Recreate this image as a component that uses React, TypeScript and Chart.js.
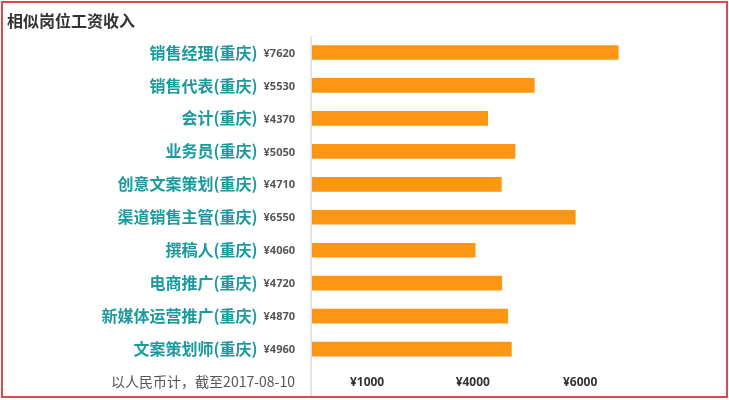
import React, { useEffect, useRef } from "react";
import { Chart, registerables } from "chart.js";

Chart.register(...registerables);

const titleText = "相似岗位工资收入";
const noteText = "以人民币计，截至2017-08-10";
const categories = [
  "销售经理(重庆)",
  "销售代表(重庆)",
  "会计(重庆)",
  "业务员(重庆)",
  "创意文案策划(重庆)",
  "渠道销售主管(重庆)",
  "撰稿人(重庆)",
  "电商推广(重庆)",
  "新媒体运营推广(重庆)",
  "文案策划师(重庆)",
];
const salaries = [7620, 5530, 4370, 5050, 4710, 6550, 4060, 4720, 4870, 4960];
const tickValues = [1370, 4000, 6670];
const tickLabels = ["¥1000", "¥4000", "¥6000"];

const CJK = '"Noto Sans CJK SC", "Noto Sans", sans-serif';

const decorPlugin = {
  id: "decor",
  beforeDraw(chart: any) {
    const { ctx } = chart;
    ctx.save();
    ctx.fillStyle = "#ffffff";
    ctx.fillRect(0, 0, chart.width, chart.height);
    ctx.restore();
  },
  afterDraw(chart: any) {
    const { ctx, chartArea } = chart;
    const yScale = chart.scales.y;
    ctx.save();
    // border
    ctx.strokeStyle = "#e2464b";
    ctx.lineWidth = 2;
    ctx.strokeRect(2, 2, chart.width - 4, chart.height - 5);
    // title
    ctx.fillStyle = "#333333";
    ctx.font = `bold 16px ${CJK}`;
    ctx.textAlign = "left";
    ctx.textBaseline = "middle";
    ctx.fillText(titleText, 7, 21);
    // axis line
    ctx.strokeStyle = "#e4e4e4";
    ctx.lineWidth = 2;
    ctx.beginPath();
    ctx.moveTo(chartArea.left - 1, chartArea.top);
    ctx.lineTo(chartArea.left - 1, chart.height - 4);
    ctx.stroke();
    // category labels
    const valueRight = chartArea.left - 17;
    categories.forEach((cat, i) => {
      const y = yScale.getPixelForValue(i);
      const v = "¥" + salaries[i];
      ctx.font = `bold 11px "Open Sans", sans-serif`;
      ctx.fillStyle = "#555555";
      ctx.textAlign = "right";
      ctx.textBaseline = "middle";
      ctx.fillText(v, valueRight, y + 1);
      const w = ctx.measureText(v).width;
      ctx.font = `bold 16px ${CJK}`;
      ctx.fillStyle = "#1a9a9e";
      ctx.fillText(cat, valueRight - w - 6, y);
    });
    // note
    ctx.font = `14px ${CJK}`;
    ctx.fillStyle = "#555555";
    ctx.textAlign = "right";
    ctx.fillText(noteText, valueRight, 382);
    ctx.restore();
  },
};

export default function App() {
  const ref = useRef<HTMLCanvasElement | null>(null);
  useEffect(() => {
    if (!ref.current) return;
    const chart = new Chart(ref.current, {
      type: "bar",
      data: {
        labels: categories,
        datasets: [
          {
            data: salaries,
            backgroundColor: "#fd9713",
            barThickness: 14,
          },
        ],
      },
      options: {
        indexAxis: "y",
        animation: false,
        responsive: false,
        layout: { padding: { left: 312, top: 36, right: 15, bottom: 0 } },
        plugins: { legend: { display: false }, tooltip: { enabled: false } },
        scales: {
          y: { display: false },
          x: {
            min: 0,
            max: 10000,
            grid: { display: false, drawTicks: false },
            border: { display: false },
            afterBuildTicks: (scale: any) => {
              scale.ticks = tickValues.map((v) => ({ value: v }));
            },
            ticks: {
              padding: 10,
              autoSkip: false,
              maxRotation: 0,
              color: "#333333",
              font: { size: 12, weight: "bold", family: '"Open Sans", sans-serif' },
              callback: (_v: any, i: number) => tickLabels[i],
            },
          },
        },
      },
      plugins: [decorPlugin],
    });
    return () => chart.destroy();
  }, []);
  return (
    <div style={{ position: "fixed", left: 0, top: 0, width: 729, height: 400 }}>
      <canvas ref={ref} width={729} height={400} style={{ width: 729, height: 400 }} />
    </div>
  );
}
